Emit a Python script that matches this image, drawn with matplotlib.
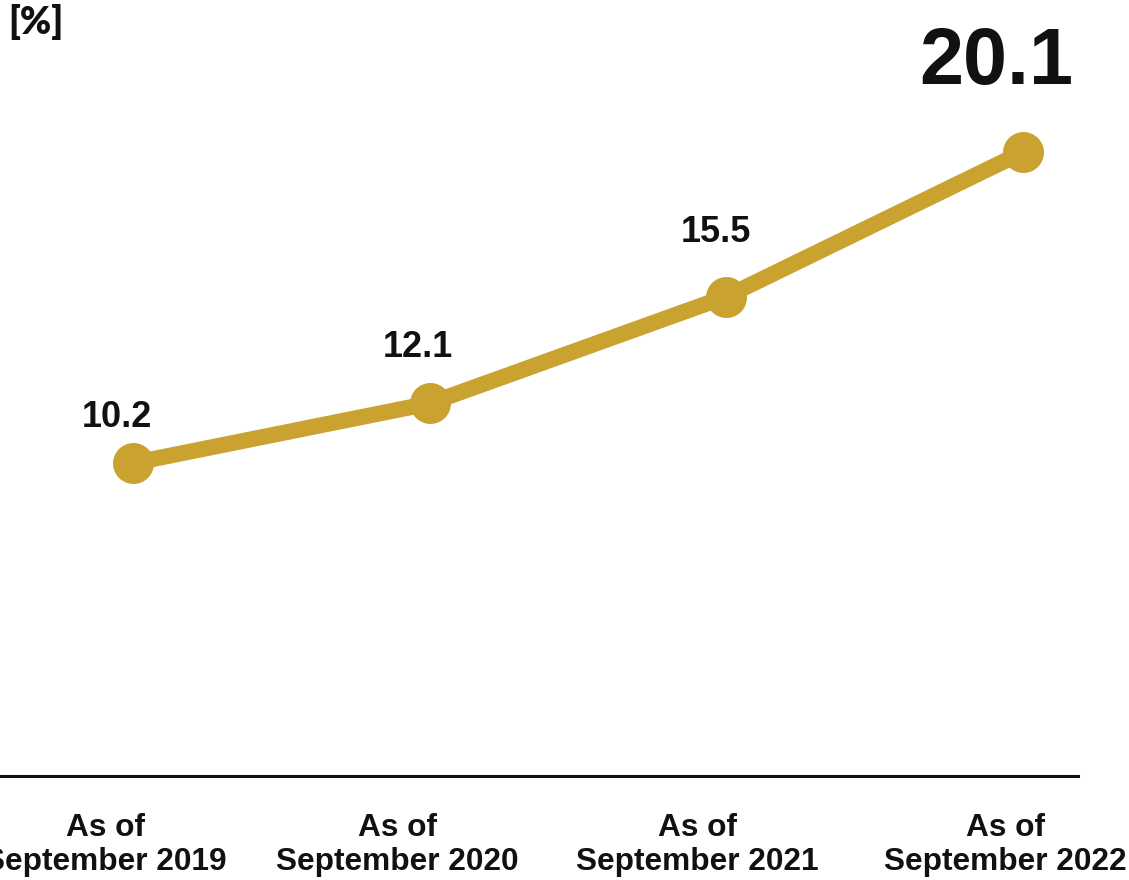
import matplotlib
matplotlib.use("Agg")
import matplotlib.pyplot as plt
import matplotlib.transforms as mtransforms

# Data
categories = ["As of\nSeptember 2019", "As of\nSeptember 2020",
              "As of\nSeptember 2021", "As of\nSeptember 2022"]
values = [10.2, 12.1, 15.5, 20.1]
value_labels = ["10.2", "12.1", "15.5", "20.1"]
unit_label = "[%]"

GOLD = "#C9A22F"
FONT = "Liberation Sans"

fig = plt.figure(figsize=(11.29, 8.8), dpi=100)
ax = fig.add_axes([0.0, 0.1182, 0.9548, 0.8818])

x = list(range(len(values)))
ax.plot(x, values, color=GOLD, lw=11.5, solid_capstyle="round",
        marker="o", markersize=29.5, markeredgewidth=0, zorder=3)

ax.set_xlim(-0.448, 3.185)
ax.set_ylim(0.24, 24.94)

# Value labels (pixel offsets from each point)
label_offsets = [(-16, 36), (-12, 46), (-10, 55), (-27, 68)]
label_sizes = [26, 26, 26, 57]
for xi, v, txt, (dx, dy), fs in zip(x, values, value_labels, label_offsets, label_sizes):
    ax.annotate(txt, (xi, v), xytext=(dx * 0.72, dy * 0.72),
                textcoords="offset points", ha="center", va="baseline",
                fontsize=fs, fontweight="bold", family=FONT, color="#111111")

# Axis styling
for side in ["top", "right", "left"]:
    ax.spines[side].set_visible(False)
ax.spines["bottom"].set_linewidth(2.2)
ax.spines["bottom"].set_color("#111111")
ax.set_yticks([])
ax.set_xticks([])

# Category labels, slightly left of each point
cat_shift = [-0.094, -0.108, -0.098, -0.059]
trans = mtransforms.blended_transform_factory(ax.transData, fig.transFigure)
for xi, cat, s in zip(x, categories, cat_shift):
    ax.text(xi + s, 1 - 870 / 880, cat, transform=trans, ha="center", va="baseline",
            fontsize=22.8, fontweight="bold", family=FONT, color="#111111",
            linespacing=1.18, clip_on=False)

fig.text(8 / 1129, 1 - 34 / 880, unit_label, ha="left", va="baseline",
         fontsize=27, fontweight="heavy", family="Lato", color="#111111")

fig.savefig("out.png", dpi=100, facecolor="white")
